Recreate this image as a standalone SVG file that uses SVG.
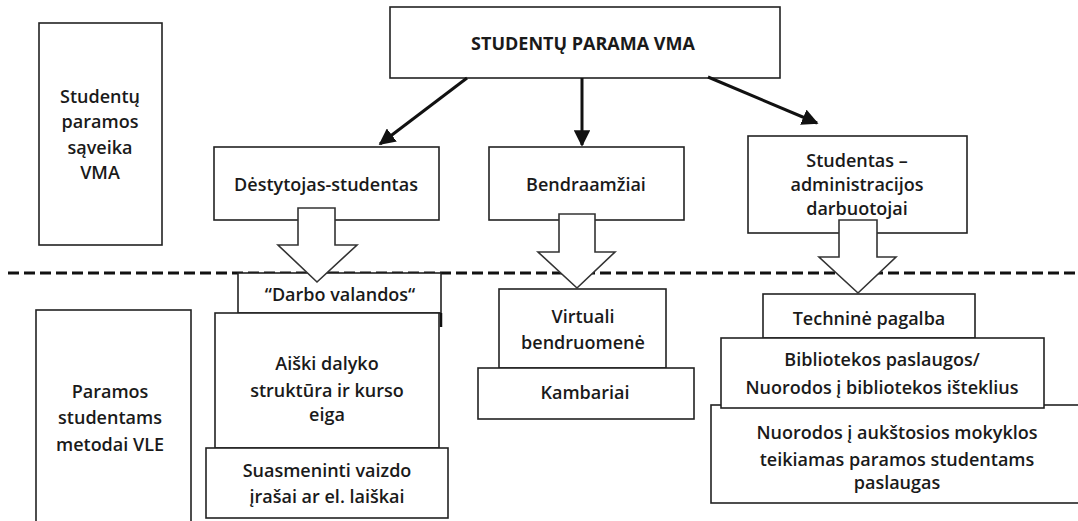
<svg xmlns="http://www.w3.org/2000/svg" width="1078" height="521" viewBox="0 0 1078 521">
<style>
.box{fill:#fff;stroke:#222;stroke-width:1.6}
.t{font-family:"Open Sans","Noto Sans",sans-serif;font-size:18px;font-weight:600;fill:#1a1a1a;text-anchor:middle}
.tb{font-weight:bold;font-size:18px}
.conn{stroke:#111;stroke-width:3;fill:none}
.blk{fill:#fff;stroke:#333;stroke-width:1.6;stroke-linejoin:miter}
.dash{stroke:#111;stroke-width:3;stroke-dasharray:11 5;fill:none}
</style>
<defs>
<marker id="ah" viewBox="0 0 10 10" refX="9" refY="5" markerWidth="5.5" markerHeight="5.5" orient="auto" markerUnits="strokeWidth">
<path d="M0,0 L10,5 L0,10 z" fill="#111"/>
</marker>
</defs>

<g id="side-top"><rect class="box" x="39" y="23" width="123" height="222"/>
<text class="t" x="100" y="103">Studentų</text><text class="t" x="100" y="128">paramos</text><text class="t" x="100" y="154">sąveika</text><text class="t" x="100" y="179">VMA</text></g>

<g id="root"><rect class="box" x="390" y="7" width="390" height="71"/>
<text class="t tb" x="583" y="50">STUDENTŲ PARAMA VMA</text></g>

<g id="connectors">
<line class="conn" x1="467" y1="78" x2="380" y2="144" marker-end="url(#ah)"/>
<line class="conn" x1="582" y1="78" x2="582" y2="145" marker-end="url(#ah)"/>
<line class="conn" x1="708" y1="77" x2="817" y2="123" marker-end="url(#ah)"/>
</g>

<g id="destytojas"><rect class="box" x="214" y="147" width="225" height="73"/>
<text class="t" x="326" y="191">Dėstytojas-studentas</text></g>

<g id="bendraamziai"><rect class="box" x="489" y="147" width="195" height="73"/>
<text class="t" x="586" y="191">Bendraamžiai</text></g>

<g id="administracija"><rect class="box" x="748" y="136" width="219" height="97"/>
<text class="t" x="857" y="167">Studentas –</text><text class="t" x="857" y="191">administracijos</text><text class="t" x="857" y="215">darbuotojai</text></g>

<line class="dash" x1="8" y1="273" x2="1078" y2="273"/>

<g id="side-bottom"><rect class="box" x="36" y="310" width="155" height="220"/>
<text class="t" x="110" y="398">Paramos</text><text class="t" x="110" y="424">studentams</text><text class="t" x="110" y="451">metodai VLE</text></g>

<g id="darbo"><rect class="box" x="238" y="273" width="203" height="40"/>
<line x1="441" y1="313" x2="441" y2="327" stroke="#111" stroke-width="2.5"/>
<text class="t" x="340" y="301">“Darbo valandos“</text></g>

<g id="aiski"><rect class="box" x="215" y="313" width="224" height="135"/>
<text class="t" x="327" y="370">Aiški dalyko</text><text class="t" x="327" y="397">struktūra ir kurso</text><text class="t" x="327" y="421">eiga</text></g>

<g id="suasmeninti"><rect class="box" x="206" y="448" width="242" height="70"/>
<text class="t" x="327" y="477">Suasmeninti vaizdo</text><text class="t" x="327" y="503">įrašai ar el. laiškai</text></g>

<g id="virtuali"><rect class="box" x="499" y="289" width="167" height="79"/>
<text class="t" x="583" y="323">Virtuali</text><text class="t" x="583" y="349">bendruomenė</text></g>

<g id="kambariai"><rect class="box" x="478" y="368" width="216" height="51"/>
<text class="t" x="585" y="399">Kambariai</text></g>

<g id="technine"><rect class="box" x="763" y="294" width="212" height="44"/>
<text class="t" x="869" y="325">Techninė pagalba</text></g>

<g id="nuorodos-am"><rect class="box" x="711" y="405" width="380" height="98"/>
<text class="t" x="897" y="439">Nuorodos į aukštosios mokyklos</text><text class="t" x="897" y="466">teikiamas paramos studentams</text><text class="t" x="897" y="489">paslaugas</text></g>

<g id="biblioteka"><rect class="box" x="721" y="338" width="323" height="70"/>
<text class="t" x="882" y="366">Bibliotekos paslaugos/</text><text class="t" x="882" y="394">Nuorodos į bibliotekos išteklius</text></g>

<g id="block-arrows">
<polygon class="blk" points="298,208 335,208 335,245 357,245 317,282 278,245 298,245"/>
<polygon class="blk" points="559,214 595,214 595,252 615,252 577,288 538,252 559,252"/>
<polygon class="blk" points="839,220 877,220 877,257 896,257 858,293 819,257 839,257"/>
</g>
</svg>
